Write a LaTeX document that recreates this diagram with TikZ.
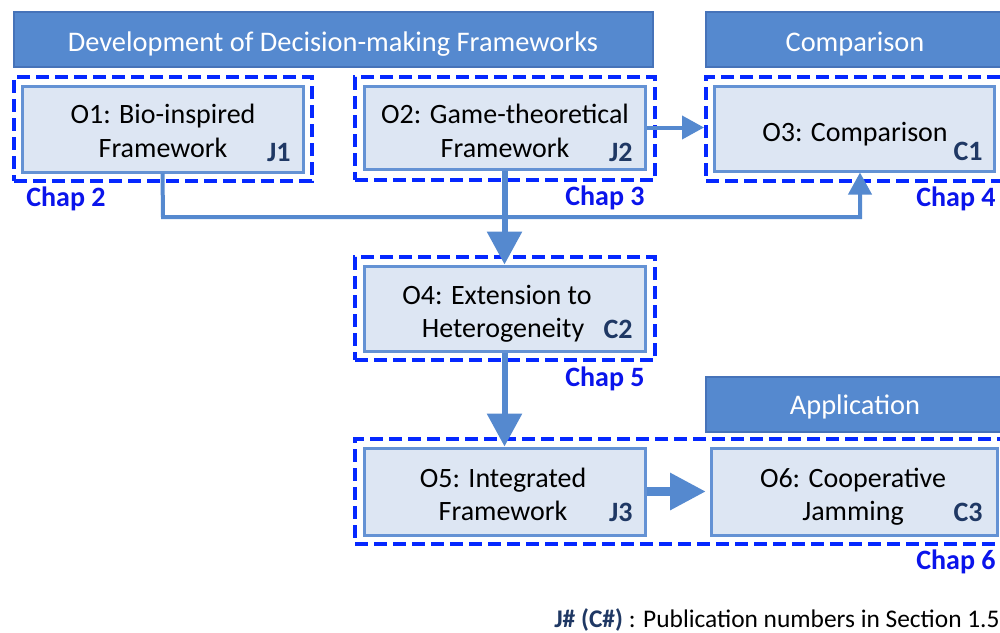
\documentclass[tikz,border=0pt]{standalone}
\usepackage{fontspec}
\setmainfont{Carlito}
\usetikzlibrary{arrows.meta,fit}
\definecolor{hdrfill}{RGB}{85,137,207}
\definecolor{hdrdraw}{RGB}{70,115,185}
\definecolor{boxfill}{RGB}{221,230,243}
\definecolor{boxdraw}{RGB}{100,146,212}
\definecolor{conncol}{RGB}{85,137,207}
\definecolor{dashcol}{RGB}{5,40,255}
\definecolor{chapcol}{RGB}{10,20,235}
\definecolor{pubcol}{RGB}{31,56,100}
\tikzset{
  hdr/.style={draw=hdrdraw,line width=0.6pt,fill=hdrfill,inner sep=0pt},
  hdrtext/.style={text=white,font=\fontsize{14.2}{17}\selectfont,anchor=base,inner sep=0pt},
  chapbox/.style={draw=dashcol,line width=2pt,dash pattern=on 6.5pt off 3pt,inner sep=0pt},
  obox/.style={draw=boxdraw,line width=1.5pt,fill=boxfill,inner sep=0pt},
  otext/.style={font=\fontsize{14}{17}\selectfont,anchor=base,inner sep=0pt},
  pub/.style={font=\bfseries\fontsize{14}{17}\selectfont,text=pubcol,anchor=base east,inner sep=0pt},
  chap/.style={font=\bfseries\fontsize{14}{17}\selectfont,text=chapcol,inner sep=0pt},
  thinconn/.style={draw=conncol,line width=2pt,-{Triangle[width=11.5pt,length=11pt]}},
  thickconn/.style={draw=conncol,line width=3pt,-{Triangle[width=17pt,length=16.5pt]}},
  fatconn/.style={draw=conncol,line width=4.5pt,-{Triangle[width=17.5pt,length=18pt]}},
}
\begin{document}
\begin{tikzpicture}[x=0.5pt,y=-0.5pt]
\clip (0,0) rectangle (1000,632);
\fill[white] (0,0) rectangle (1000,632);
% headers
\node[hdr,fit={(14,12) (653,67)}] (h1) {};
\node[hdrtext] (h1t) at (333,51) {Development of Decision-making Frameworks};
\node[hdr,fit={(706,12) (1010,67)}] (h2) {};
\node[hdrtext] (h2t) at (855,51) {Comparison};
\node[hdr,fit={(706,377) (1010,432)}] (h3) {};
\node[hdrtext] (h3t) at (855,414) {Application};
% chapter dashed boxes
\node[chapbox,fit={(14,77) (312,181)}] (d1) {};
\node[chapbox,fit={(355,77) (655,180)}] (d2) {};
\node[chapbox,fit={(706,77) (1010,181)}] (d3) {};
\node[chapbox,fit={(355,257) (655,360)}] (d4) {};
\node[chapbox,fit={(355,439) (1010,544)}] (d5) {};
% objective boxes
\node[obox,fit={(22,86) (303,172)}] (b1) {};
\node[obox,fit={(364,86) (645,169)}] (b2) {};
\node[obox,fit={(714,86) (994,171)}] (b3) {};
\node[obox,fit={(364,266) (645,351)}] (b4) {};
\node[obox,fit={(364,448) (645,535)}] (b5) {};
\node[obox,fit={(711,448) (997,535)}] (b6) {};
% box texts
\node[otext] (t1a) at (163,123) {O1: Bio-inspired};
\node[otext] (t1b) at (163,157) {Framework};
\node[otext] (t2a) at (505,123) {O2: Game-theoretical};
\node[otext] (t2b) at (505,157) {Framework};
\node[otext] (t3a) at (855,141) {O3: Comparison};
\node[otext] (t4a) at (497,304) {O4: Extension to};
\node[otext] (t4b) at (503,337) {Heterogeneity};
\node[otext] (t5a) at (503,487) {O5: Integrated};
\node[otext] (t5b) at (503,520) {Framework};
\node[otext] (t6a) at (853,487) {O6: Cooperative};
\node[otext] (t6b) at (853,520) {Jamming};
% publication labels
\node[pub] (p1) at (291,161) {J1};
\node[pub] (p2) at (633,161) {J2};
\node[pub] (p3) at (983,160) {C1};
\node[pub] (p4) at (633,338) {C2};
\node[pub] (p5) at (633,521) {J3};
\node[pub] (p6) at (983,521) {C3};
% chapter labels
\node[chap,anchor=base west] (c2) at (26,206) {Chap 2};
\node[chap,anchor=base east] (c3) at (645,205) {Chap 3};
\node[chap,anchor=base east] (c4) at (996,206) {Chap 4};
\node[chap,anchor=base east] (c5) at (645,386) {Chap 5};
\node[chap,anchor=base east] (c6) at (996,569) {Chap 6};
% connectors
\coordinate (bendA) at (163,217);
\coordinate (bendB) at (860,217);
\draw[thinconn] (b1.south) -- (bendA) -- (bendB) -- (bendB |- b3.south);
\draw[thickconn] (b2.south) -- (b4.north);
\draw[thinconn] (b2.east) -- (b2.east -| d3.west);
\draw[thickconn] (b4.south) -- (b5.north);
\coordinate (o6tip) at (706,491);
\draw[fatconn] (b5.east) -- (b5.east -| o6tip);
% footnote
\node[font=\fontsize{12.7}{15}\selectfont,anchor=base east,inner sep=0pt] (foot) at (1000,627)
  {\textcolor{pubcol}{\bfseries J\# (C\#)} : Publication numbers in Section 1.5};
\end{tikzpicture}
\end{document}
